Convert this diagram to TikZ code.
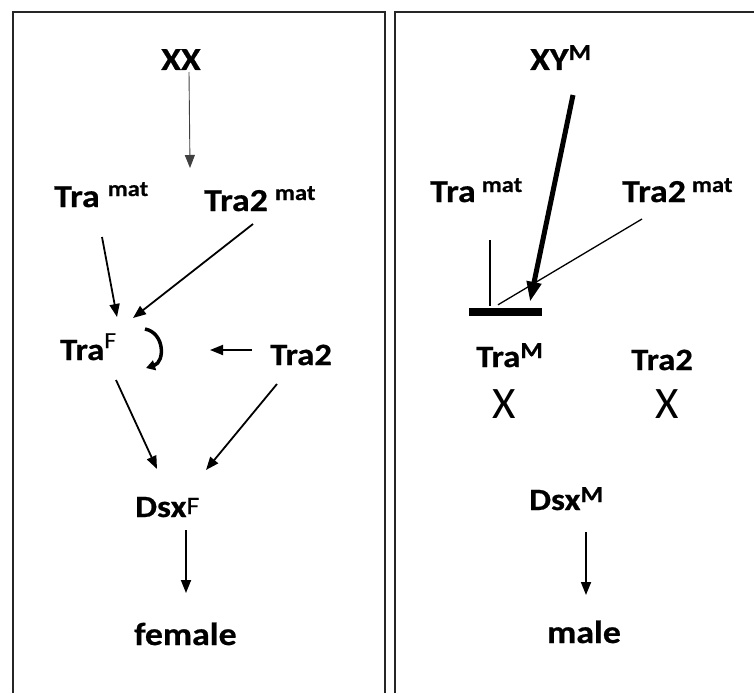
\documentclass[tikz,border=0pt]{standalone}
\usepackage{fontspec}
\setmainfont{Carlito}[FakeStretch=1.12,FakeBold=0.6]
\newfontfamily\xfont{Carlito}
\usetikzlibrary{arrows.meta,calc}
\newcommand\supx[3]{\raisebox{#1pt}{\fontsize{#2}{#2}\selectfont #3}}
\begin{document}
\begin{tikzpicture}[x=1pt,y=-1pt,
  lbl/.style={anchor=base west,inner sep=0pt,font=\fontsize{32}{36}\selectfont\bfseries},
  lblm/.style={anchor=base west,inner sep=0pt,font=\fontsize{31}{35}\selectfont\bfseries},
  xmark/.style={anchor=base west,inner sep=0pt,font=\xfont\fontsize{45}{48}\selectfont},
  arr/.style={line width=1.8pt,-{Triangle[length=13pt,width=10pt]}},
  frame/.style={line width=2pt,draw=black!85}]
\useasboundingbox (0,0) rectangle (754,693);
\draw[frame] (13,693) -- (13,12) -- (385,12) -- (385,693);
\draw[frame] (395,693) -- (395,12) -- (754,12);

% left panel
\node[lbl] (XX) at (161,70) {XX};
\node[lbl] (Tm1) at (54,207) {Tra\hspace{8pt}\supx{11}{22}{mat}};
\node[lbl] (Tm2) at (204,211) {Tra2\hspace{7pt}\supx{11}{22}{mat}};
\node[lblm] (TraF) at (60,360) {Tra\supx{12}{23}{\mdseries F}};
\node[lblm] (Tra2L) at (270,365) {Tra2};
\node[lblm] (DsxF) at (135,517) {Dsx\supx{3}{25}{\mdseries F}};
\node[lbl] (fem) at (134,645) {female};
\coordinate (xxend) at (190,168);
\coordinate (t2end) at (210,350);

\draw[arr,line width=0.9pt,draw=black!75] ($(XX.base west)+(28,2)$) -- (xxend);
\draw[arr] ($(Tm1.base west)+(48,30)$) -- ($(TraF.base west)+(57,-43)$);
\draw[arr] ($(Tm2.base west)+(49,13)$) -- ($(TraF.base west)+(73,-42)$);
\draw[line width=3.5pt,-{Triangle[length=9pt,width=10pt]}] ($(TraF.base west)+(85,-31)$) .. controls ($(TraF.base west)+(105,-27)$) and ($(TraF.base west)+(105,2)$) .. ($(TraF.base west)+(86,8)$);
\draw[arr] ($(Tra2L.base west)+(-18,-15)$) -- (t2end);
\draw[arr] ($(TraF.base west)+(56,20)$) -- ($(DsxF.base west)+(22,-48)$);
\draw[arr] ($(Tra2L.base west)+(7,19)$) -- ($(DsxF.base west)+(71,-47)$);
\draw[arr] ($(DsxF.base west)+(51,13)$) -- ($(fem.base west)+(52,-52)$);

% right panel
\node[lbl] (XYM) at (530,70) {XY\supx{10}{23}{M}};
\node[lbl] (Tm1R) at (430,202) {Tra\hspace{6pt}\supx{10}{22}{mat}};
\node[lbl] (Tm2R) at (622,202) {Tra2\hspace{6pt}\supx{10}{22}{mat}};
\node[lblm] (TraM) at (476,367) {Tra\supx{9}{23}{M}};
\node[lblm] (Tra2R) at (631,370) {Tra2};
\node[xmark] (X1) at (492,418) {X};
\node[xmark] (X2) at (655,418) {X};
\node[lblm] (DsxM) at (529,510) {Dsx\supx{8}{23}{M}};
\node[lbl] (male) at (547,643) {male};
\node[fill=black,minimum width=73pt,minimum height=8pt,inner sep=0pt] (bar) at (505,312) {};

\draw[line width=5pt,-{Triangle[length=20pt,width=14pt]}] ($(XYM.base west)+(43,25)$) -- ($(bar.north)+(25,-6)$);
\draw[line width=1.3pt] ($(Tm1R.base west)+(60,38)$) -- ($(bar.north)+(-15,-2)$);
\draw[line width=1.3pt] ($(Tm2R.base west)+(20,17)$) -- ($(bar.north)+(-7,-3)$);
\draw[arr] ($(DsxM.base west)+(57,22)$) -- ($(male.base west)+(39,-48)$);
\end{tikzpicture}
\end{document}
